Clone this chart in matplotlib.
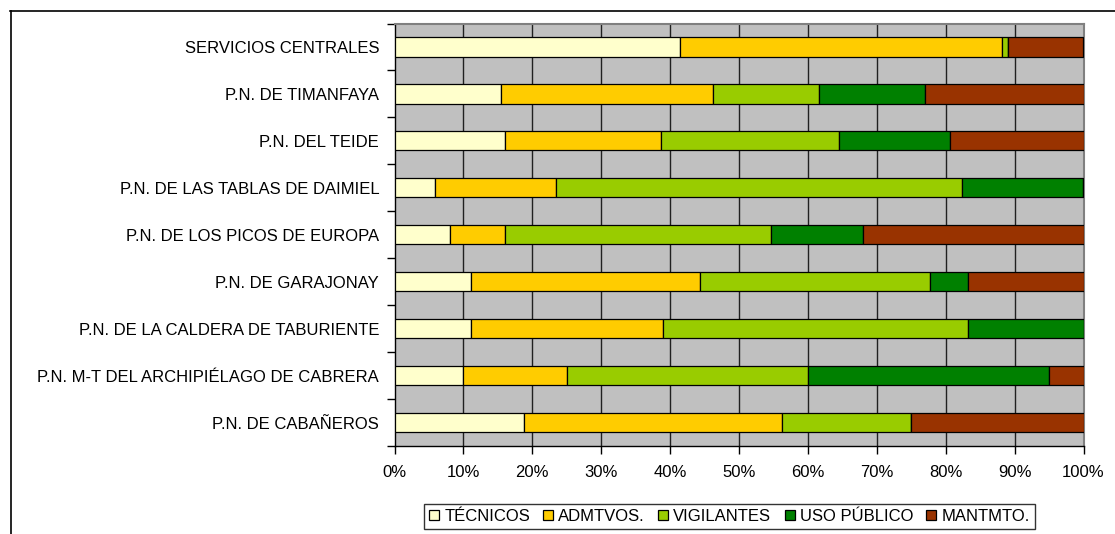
import matplotlib
matplotlib.use("Agg")
import matplotlib.pyplot as plt
from matplotlib.lines import Line2D
import numpy as np

plt.rcParams['font.family'] = ['Liberation Sans', 'DejaVu Sans']

categories = [
    "SERVICIOS CENTRALES",
    "P.N. DE TIMANFAYA",
    "P.N. DEL TEIDE",
    "P.N. DE LAS TABLAS DE DAIMIEL",
    "P.N. DE LOS PICOS DE EUROPA",
    "P.N. DE GARAJONAY",
    "P.N. DE LA CALDERA DE TABURIENTE",
    "P.N. M-T DEL ARCHIPIÉLAGO DE CABRERA",
    "P.N. DE CABAÑEROS",
]
series_names = ["TÉCNICOS", "ADMTVOS.", "VIGILANTES", "USO PÚBLICO", "MANTMTO."]

tecnicos    = [41.4, 15.4, 16.1,  5.9,  8.0, 11.1, 11.1, 10.0, 18.75]
admtvos     = [46.8, 30.8, 22.6, 17.6,  8.0, 33.3, 27.8, 15.0, 37.5]
vigilantes  = [ 0.9, 15.4, 25.8, 58.8, 38.7, 33.3, 44.4, 35.0, 18.75]
uso_publico = [ 0.0, 15.4, 16.1, 17.6, 13.3,  5.6, 16.7, 35.0,  0.0]
mantmto     = [10.8, 23.1, 19.4,  0.0, 32.0, 16.7,  0.0,  5.0, 25.0]

x_ticks = [0, 10, 20, 30, 40, 50, 60, 70, 80, 90, 100]
x_tick_labels = [f"{t}%" for t in x_ticks]

colors = ["#FFFFCC", "#FFCC00", "#99CC00", "#008000", "#993300"]

W, H = 1115, 534
fig = plt.figure(figsize=(W / 100, H / 100), dpi=100)

# outer chart border (continues beyond image on right and bottom)
fig.add_artist(Line2D([10 / W, 1.0], [1 - 10.5 / H, 1 - 10.5 / H], color="black", lw=1.2))
fig.add_artist(Line2D([10.5 / W, 10.5 / W], [0.0, 1 - 10.5 / H], color="black", lw=1.2))

left, right, top, bottom = 394.5, 1083.5, 23.5, 446
ax = fig.add_axes([left / W, 1 - bottom / H, (right - left) / W, (bottom - top) / H])
ax.set_facecolor("#C0C0C0")

data = [tecnicos, admtvos, vigilantes, uso_publico, mantmto]
y = np.arange(len(categories))
cum = np.zeros(len(categories))
for name, vals, col in zip(series_names, data, colors):
    vals = np.array(vals)
    ax.barh(y, vals, left=cum, height=0.41, color=col, edgecolor="black",
            linewidth=0.9, label=name, zorder=3)
    cum += vals

ax.set_xlim(0, 100)
ax.set_ylim(len(categories) - 0.5, -0.5)

ax.set_xticks(x_ticks)
ax.set_xticklabels(x_tick_labels, fontsize=12)
ax.set_yticks(y)
ax.set_yticklabels(categories, fontsize=12)
ax.tick_params(axis="y", length=0, pad=11)
ax.set_yticks(np.arange(len(categories) + 1) - 0.5, minor=True)
ax.tick_params(axis="y", which="minor", length=6, width=1, direction="out", color="black")
ax.tick_params(axis="x", length=6, width=1, direction="out", pad=8, color="black")

for t in x_ticks[1:-1]:
    ax.axvline(t, color="#202020", lw=1, zorder=1)

for s in ["top", "right"]:
    ax.spines[s].set_color("#808080")
    ax.spines[s].set_linewidth(1.5)
for s in ["left", "bottom"]:
    ax.spines[s].set_color("black")
    ax.spines[s].set_linewidth(1)

leg = fig.legend(loc="center", bbox_to_anchor=(729.5 / W, 1 - 516.5 / H), ncol=5,
                 fontsize=12, frameon=True, fancybox=False, edgecolor="black",
                 handlelength=0.6, handleheight=0.6, handletextpad=0.3,
                 columnspacing=0.8, borderpad=0.3, borderaxespad=0)
leg.get_frame().set_linewidth(1)

fig.savefig("out.png", dpi=100, facecolor="white")
